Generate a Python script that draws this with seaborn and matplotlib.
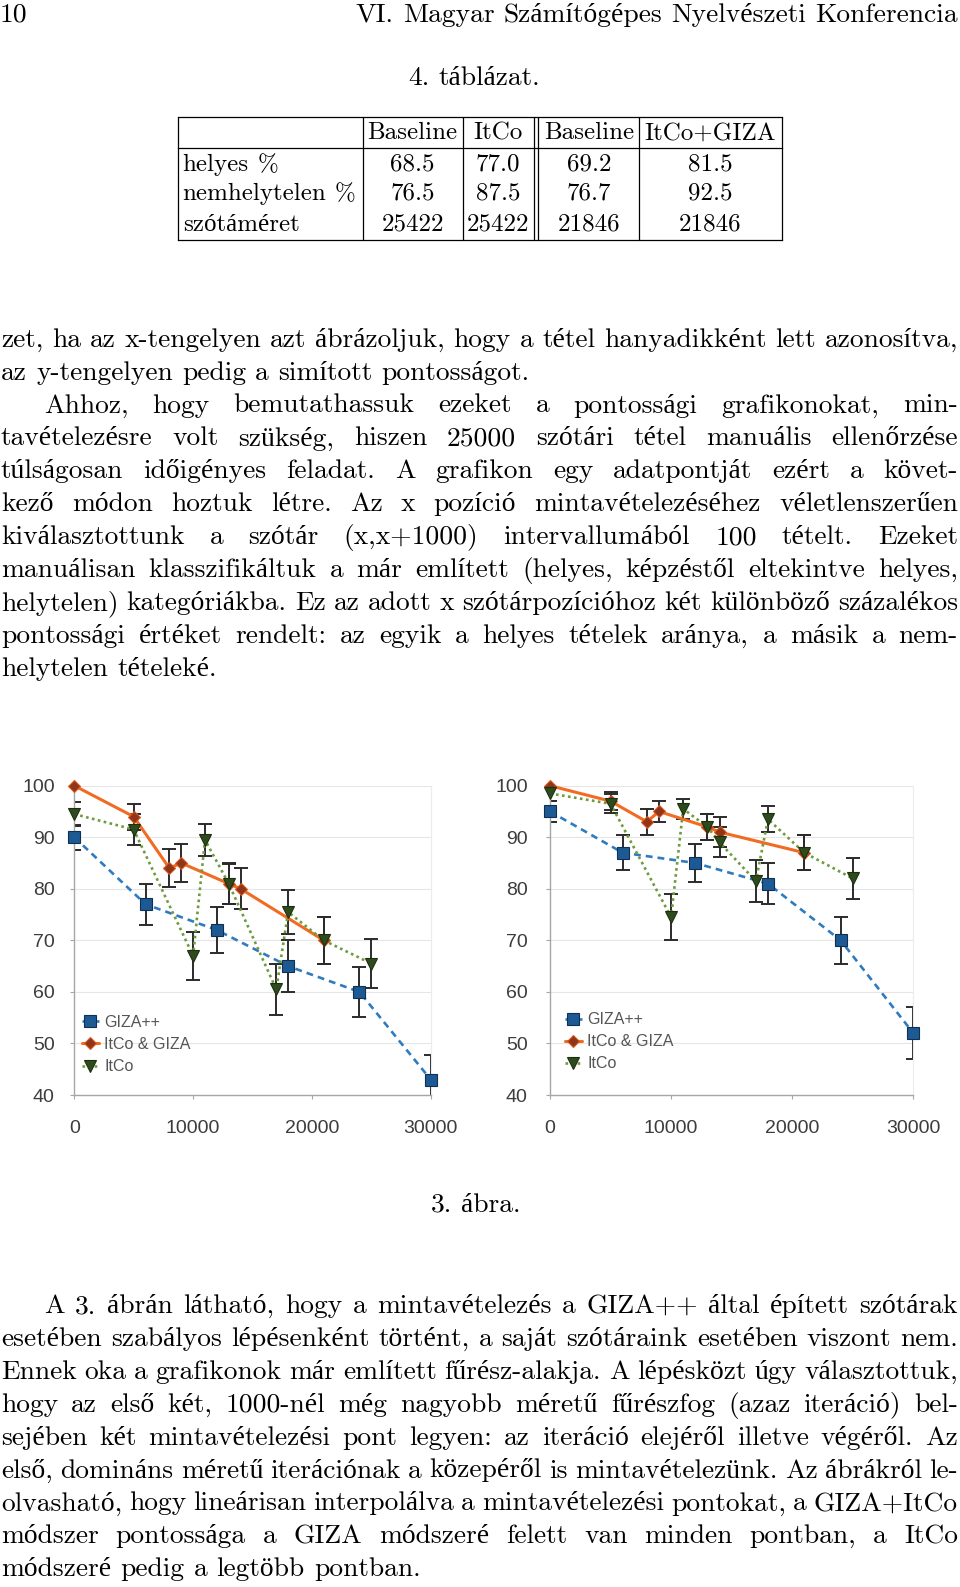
"""
plot.py — page reproduction: results table, two accuracy charts and
justified Hungarian body text around them.
"""

import matplotlib
matplotlib.use("Agg")
import matplotlib.pyplot as plt
import seaborn as sns

# ---------------------------------------------------------------------------
# Data
# ---------------------------------------------------------------------------
TABLE_COLS = ["Baseline", "ItCo", "Baseline", "ItCo+GIZA"]
TABLE_ROWS = ["helyes %", "nemhelytelen %", "szótáméret"]
TABLE_VALUES = [
    ["68.5", "77.0", "69.2", "81.5"],
    ["76.5", "87.5", "76.7", "92.5"],
    ["25422", "25422", "21846", "21846"],
]

SERIES_NAMES = ["GIZA++", "ItCo & GIZA", "ItCo"]

# left chart
L_GIZA_X = [0, 6000, 12000, 18000, 24000, 30000]
L_GIZA_Y = [90, 77, 72, 65, 60, 43]
L_GIZA_E = [2.4, 4.0, 4.5, 5.0, 4.9, 4.8]
L_ITGZ_X = [0, 5000, 8000, 9000, 13000, 14000, 21000]
L_ITGZ_Y = [100, 94, 84, 85, 81, 80, 70]
L_ITGZ_E = [0, 2.5, 3.7, 3.6, 3.9, 4.0, 4.6]
L_ITCO_X = [0, 5000, 10000, 11000, 13000, 17000, 18000, 21000, 25000]
L_ITCO_Y = [94.5, 91.5, 67, 89.5, 81, 60.5, 75.5, 70, 65.5]
L_ITCO_E = [2.3, 3.0, 4.7, 3.1, 4.0, 4.9, 4.3, 4.5, 4.8]

# right chart
R_GIZA_X = [0, 6000, 12000, 18000, 24000, 30000]
R_GIZA_Y = [95, 87, 85, 81, 70, 52]
R_GIZA_E = [2.1, 3.4, 3.6, 4.0, 4.6, 5.0]
R_ITGZ_X = [0, 5000, 8000, 9000, 13000, 14000, 21000]
R_ITGZ_Y = [100, 97, 93, 95, 92, 91, 87]
R_ITGZ_E = [0, 1.7, 2.5, 2.1, 2.6, 2.9, 3.4]
R_ITCO_X = [0, 5000, 10000, 11000, 13000, 14000, 17000, 18000, 21000, 25000]
R_ITCO_Y = [98.5, 96.5, 74.5, 95.5, 92, 89, 81.5, 93.5, 87, 82]
R_ITCO_E = [1.5, 1.8, 4.5, 2.0, 2.6, 2.9, 4.0, 2.5, 3.4, 3.9]

X_TICKS = [0, 10000, 20000, 30000]
Y_TICKS = [40, 50, 60, 70, 80, 90, 100]

HEADER_LEFT = "10"
HEADER_RIGHT = "VI. Magyar Számítógépes Nyelvészeti Konferencia"
TABLE_TITLE = "4. táblázat."
FIG_CAPTION = "3. ábra."

# (text, justified, indented)
PARA_A = [
    ("zet, ha az x-tengelyen azt ábrázoljuk, hogy a tétel hanyadikként lett azonosítva,", True, False),
    ("az y-tengelyen pedig a simított pontosságot.", False, False),
    ("Ahhoz, hogy bemutathassuk ezeket a pontossági grafikonokat, min-", True, True),
    ("tavételezésre volt szükség, hiszen 25000 szótári tétel manuális ellenőrzése", True, False),
    ("túlságosan időigényes feladat. A grafikon egy adatpontját ezért a követ-", True, False),
    ("kező módon hoztuk létre. Az x pozíció mintavételezéséhez véletlenszerűen", True, False),
    ("kiválasztottunk a szótár (x,x+1000) intervallumából 100 tételt. Ezeket", True, False),
    ("manuálisan klasszifikáltuk a már említett (helyes, képzéstől eltekintve helyes,", True, False),
    ("helytelen) kategóriákba. Ez az adott x szótárpozícióhoz két különböző százalékos", True, False),
    ("pontossági értéket rendelt: az egyik a helyes tételek aránya, a másik a nem-", True, False),
    ("helytelen tételeké.", False, False),
]
PARA_B = [
    ("A 3. ábrán látható, hogy a mintavételezés a GIZA++ által épített szótárak", True, True),
    ("esetében szabályos lépésenként történt, a saját szótáraink esetében viszont nem.", True, False),
    ("Ennek oka a grafikonok már említett fűrész-alakja. A lépésközt úgy választottuk,", True, False),
    ("hogy az első két, 1000-nél még nagyobb méretű fűrészfog (azaz iteráció) bel-", True, False),
    ("sejében két mintavételezési pont legyen: az iteráció elejéről illetve végéről. Az", True, False),
    ("első, domináns méretű iterációnak a közepéről is mintavételezünk. Az ábrákról le-", True, False),
    ("olvasható, hogy lineárisan interpolálva a mintavételezési pontokat, a GIZA+ItCo", True, False),
    ("módszer pontossága a GIZA módszeré felett van minden pontban, a ItCo", True, False),
    ("módszeré pedig a legtöbb pontban.", False, False),
]

# ---------------------------------------------------------------------------
# Style
# ---------------------------------------------------------------------------
W, H, DPI = 960, 1587, 100
sns.set_theme(style="white")
plt.rcParams["font.family"] = ["cmr10", "Liberation Serif", "DejaVu Serif"]
plt.rcParams["text.color"] = "#000000"

STYLES = {
    "GIZA++": dict(color="#2f7bbf", linewidth=1.9, linestyle=(0, (2.6, 1.9)),
                   marker="s", markersize=8, markerfacecolor="#1d5a93",
                   markeredgecolor="#0f2f55"),
    "ItCo & GIZA": dict(color="#f26b22", linewidth=2.2, linestyle="-",
                        marker="D", markersize=6.5, markerfacecolor="#8f3519",
                        markeredgecolor="#d9581e"),
    "ItCo": dict(color="#6e9b3b", linewidth=1.9, linestyle=(0, (1, 1.3)),
                 marker="v", markersize=8, markerfacecolor="#2e4b1d",
                 markeredgecolor="#1c3010"),
}

fig = plt.figure(figsize=(W / DPI, H / DPI), dpi=DPI)
page = fig.add_axes([0, 0, 1, 1])
page.set_xlim(0, W)
page.set_ylim(H, 0)
page.axis("off")
R = fig.canvas.get_renderer()


# ---------------------------------------------------------------------------
# Text helpers (page coordinates are pixels, y downwards)
# ---------------------------------------------------------------------------
def _width(t):
    return t.get_window_extent(renderer=R).width


def fit_size(s, target):
    t = page.text(0, 0, s, fontsize=10)
    w = _width(t)
    t.remove()
    return 10 * target / w


def put_line(words, x0, y, size, x1=None, align="left"):
    texts = [page.text(0, y, w, fontsize=size, va="baseline", ha="left") for w in words]
    widths = [_width(t) for t in texts]
    if x1 is not None and len(words) > 1:
        gap = (x1 - x0 - sum(widths)) / (len(words) - 1)
    else:
        gap = 0.333 * size * DPI / 72
    total = sum(widths) + gap * (len(words) - 1)
    if align == "center":
        pos = x0 - total / 2
    elif align == "right":
        pos = x0 - total
    else:
        pos = x0
    for t, w in zip(texts, widths):
        t.set_x(pos)
        pos += w + gap


def put_paragraph(lines, y0, size, step=32.9, left=1, right=958, indent=43):
    for i, (s, justified, indented) in enumerate(lines):
        x0 = left + (indent if indented else 0)
        put_line(s.split(" "), x0, y0 + i * step, size, x1=right if justified else None)


TABLE_SIZE = fit_size("Baseline", 90)
BODY = TABLE_SIZE * 1.10
HEAD = TABLE_SIZE * 1.10

# header
put_line([HEADER_LEFT], 0, 22, HEAD)
put_line(HEADER_RIGHT.split(" "), 958, 22, HEAD, align="right")

# table
put_line(TABLE_TITLE.split(" "), 474.5, 85, BODY, align="center")
TOP, SEP, BOT = 117.3, 148.3, 240.0
XL, XR = 178.3, 781.5
V_LINES = [XL, 362.7, 462.7, 534.0, 538.3, 639.3, XR]
COL_CENTERS = [412.7, 498.3, 588.8, 710.4]
ROW_BASE = [170.7, 200.0, 230.7]
for yy in (TOP, SEP, BOT):
    page.plot([XL, XR], [yy, yy], color="black", lw=0.9, solid_capstyle="projecting")
for xx in V_LINES:
    page.plot([xx, xx], [TOP, BOT], color="black", lw=0.9)
for c, name in zip(COL_CENTERS, TABLE_COLS):
    put_line([name], c, 139.3, TABLE_SIZE, align="center")
for r, (label, vals) in enumerate(zip(TABLE_ROWS, TABLE_VALUES)):
    put_line(label.split(" "), 182.7, ROW_BASE[r], TABLE_SIZE)
    for c, v in zip(COL_CENTERS, vals):
        put_line([v], c, ROW_BASE[r], TABLE_SIZE, align="center")

# body text
put_paragraph(PARA_A, 346.7, BODY)
put_line(FIG_CAPTION.split(" "), 476, 1212, BODY, align="center")
put_paragraph(PARA_B, 1313, BODY)


# ---------------------------------------------------------------------------
# Charts
# ---------------------------------------------------------------------------
def draw_chart(rect, series, legend_anchor, ypad):
    left, top, right, bottom = rect
    ax = fig.add_axes([left / W, 1 - bottom / H, (right - left) / W, (bottom - top) / H])
    ax.set_facecolor("white")
    for name, (xs, ys, es) in zip(SERIES_NAMES, series):
        ex = [x for x, e in zip(xs, es) if e > 0]
        ey = [y for y, e in zip(ys, es) if e > 0]
        ee = [e for e in es if e > 0]
        ax.errorbar(ex, ey, yerr=ee, fmt="none", ecolor="#2b2b2b", elinewidth=1.4,
                    capsize=4.8, capthick=1.4, zorder=2.5)
        sns.lineplot(x=xs, y=ys, ax=ax, estimator=None, sort=False, label=name,
                     markeredgewidth=0.8, clip_on=False, zorder=3, **STYLES[name])

    ax.set_xlim(0, 30000)
    ax.set_ylim(40, 100)
    ax.set_xticks(X_TICKS)
    ax.set_xticklabels([str(v) for v in X_TICKS])
    ax.set_yticks(Y_TICKS)
    ax.set_yticklabels([str(v) for v in Y_TICKS])
    ax.set_xlabel("")
    ax.set_ylabel("")
    ax.grid(axis="y", color="#e6e6e6", lw=0.8)
    ax.grid(axis="x", visible=False)
    ax.set_axisbelow(True)
    ax.spines["top"].set_visible(False)
    ax.spines["right"].set_color("#ececec")
    ax.spines["right"].set_linewidth(0.8)
    for s in ("left", "bottom"):
        ax.spines[s].set_color("#a6a6a6")
        ax.spines[s].set_linewidth(1.0)
    ax.tick_params(axis="x", length=3, width=0.8, color="#a6a6a6", pad=15,
                   labelsize=14, labelcolor="#3c3c3c", bottom=True)
    ax.tick_params(axis="y", length=3, width=0.8, color="#a6a6a6", pad=ypad,
                   labelsize=14, labelcolor="#3c3c3c", left=True)
    for lab in ax.get_xticklabels() + ax.get_yticklabels():
        lab.set_fontfamily(["Liberation Sans", "DejaVu Sans"])

    handles, labels = ax.get_legend_handles_labels()
    leg = ax.legend(handles, labels, loc="center left", bbox_to_anchor=legend_anchor,
                    frameon=False, borderaxespad=0, borderpad=0, handlelength=1.05,
                    handletextpad=0.36, labelspacing=0.45,
                    prop={"family": ["Liberation Sans", "DejaVu Sans"], "size": 11.5})
    for t in leg.get_texts():
        t.set_color("#555555")
    return ax


draw_chart((74.3, 785.7, 430.7, 1095.0),
           [(L_GIZA_X, L_GIZA_Y, L_GIZA_E),
            (L_ITGZ_X, L_ITGZ_Y, L_ITGZ_E),
            (L_ITCO_X, L_ITCO_Y, L_ITCO_E)],
           (0.021, 0.163), 11)
draw_chart((550.0, 785.7, 913.3, 1095.0),
           [(R_GIZA_X, R_GIZA_Y, R_GIZA_E),
            (R_ITGZ_X, R_ITGZ_Y, R_ITGZ_E),
            (R_ITCO_X, R_ITCO_Y, R_ITCO_E)],
           (0.041, 0.172), 13)

fig.savefig("out.png", dpi=DPI, facecolor="white")
